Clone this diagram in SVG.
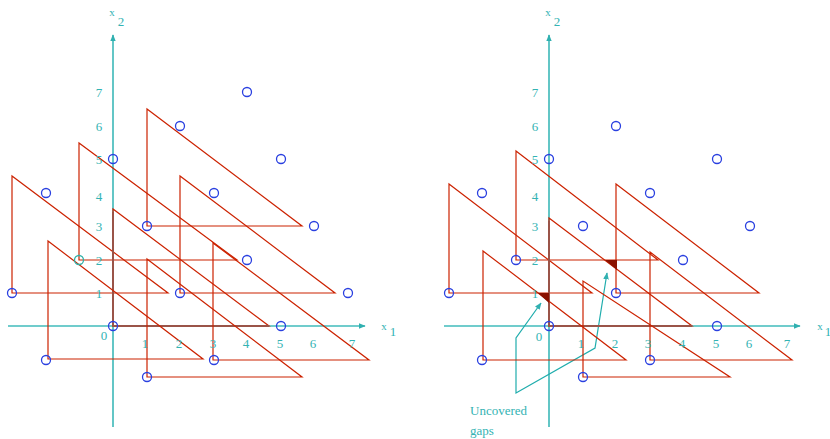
<svg xmlns="http://www.w3.org/2000/svg" width="830" height="439" viewBox="0 0 830 439">
<defs>
<style>
.ax{stroke:#3cb8b8;stroke-width:1.6;fill:none}
.axx{stroke:#70cccc;stroke-width:2;fill:none}
.tri{stroke:#cc2200;stroke-width:1.2;fill:none}
.ov{stroke:#9a5448;stroke-width:2;fill:none}
.pt{stroke:#2a40e0;stroke-width:1.3;fill:none}
.lab{font-family:"Liberation Serif",serif;font-size:13px;fill:#33b3b3;text-anchor:middle}
.sm{font-size:11px}
.gap{fill:#8a1200;stroke:none}
.ptr{stroke:#20adad;stroke-width:1.2;fill:none}
</style>
<marker id="ah" viewBox="0 0 10 10" refX="9" refY="5" markerWidth="7" markerHeight="7" markerUnits="userSpaceOnUse" orient="auto-start-reverse">
<path d="M0,1 L10,5 L0,9 Z" fill="#30b0b0"/>
</marker>
</defs>

<g id="connectors">
<line class="ax" x1="113" y1="427" x2="113" y2="35" marker-end="url(#ah)"/>
<line class="axx" x1="8" y1="326" x2="365" y2="326" marker-end="url(#ah)"/>
<line class="ax" x1="549" y1="427" x2="549" y2="35" marker-end="url(#ah)"/>
<line class="axx" x1="444" y1="326" x2="800" y2="326" marker-end="url(#ah)"/>
<polyline class="ptr" points="541,303 516,338 516,393 595,348 607,273" marker-start="url(#ah)" marker-end="url(#ah)"/>
</g>

<g id="left-triangles">
<polygon id="LA" class="tri" points="12,176 12,293 168,293"/>
<polygon id="LB" class="tri" points="79,143 79,260 237,260"/>
<polygon id="LC" class="tri" points="147,109 147,226 302,226"/>
<polygon id="LD" class="tri" points="180,176 180,293 335,293"/>
<g id="LE"><polygon class="tri" points="113,209 113,326 269,326"/><polyline class="ov" points="113,212 113,326 269,326"/></g>
<polygon id="LF" class="tri" points="48,241 48,359 203,359"/>
<polygon id="LG" class="tri" points="213,243 213,360 369,360"/>
<polygon id="LH" class="tri" points="147,259 147,377 302,377"/>
</g>

<g id="right-triangles">
<polygon id="RA" class="tri" points="449,184 449,293 592,293"/>
<polygon id="RB" class="tri" points="516,151 516,260 658,260"/>
<polygon id="RC" class="tri" points="616,184 616,293 759,293"/>
<g id="RD"><polygon class="tri" points="549,218 549,326 692,326"/><polyline class="ov" points="549,221 549,326 692,326"/></g>
<polygon id="RE" class="tri" points="483,251 483,360 626,360"/>
<polygon id="RF" class="tri" points="650,252 650,360 792,360"/>
<polygon id="RG" class="tri" points="583,281 583,377 730,377"/>
<polygon id="gap1" class="gap" points="538,293 549,293 549,303"/>
<polygon id="gap2" class="gap" points="605,260 617,260 617,270"/>
</g>

<g id="left-points">
<circle class="pt" cx="247" cy="92" r="4.5"/>
<circle class="pt" cx="180" cy="126" r="4.5"/>
<circle class="pt" cx="113" cy="159" r="4.5"/>
<circle class="pt" cx="281" cy="159" r="4.5"/>
<circle class="pt" cx="46" cy="193" r="4.5"/>
<circle class="pt" cx="214" cy="193" r="4.5"/>
<circle class="pt" cx="147" cy="226" r="4.5"/>
<circle class="pt" cx="314" cy="226" r="4.5"/>
<circle class="pt" cx="79" cy="260" r="4.5" style="stroke:#30b0a8"/>
<circle class="pt" cx="247" cy="260" r="4.5"/>
<circle class="pt" cx="12" cy="293" r="4.5"/>
<circle class="pt" cx="180" cy="293" r="4.5"/>
<circle class="pt" cx="348" cy="293" r="4.5"/>
<circle class="pt" cx="113" cy="326" r="4.5"/>
<circle class="pt" cx="281" cy="326" r="4.5"/>
<circle class="pt" cx="46" cy="360" r="4.5"/>
<circle class="pt" cx="214" cy="360" r="4.5"/>
<circle class="pt" cx="147" cy="377" r="4.5"/>
</g>

<g id="right-points">
<circle class="pt" cx="616" cy="126" r="4.5"/>
<circle class="pt" cx="549" cy="159" r="4.5"/>
<circle class="pt" cx="717" cy="159" r="4.5"/>
<circle class="pt" cx="482" cy="193" r="4.5"/>
<circle class="pt" cx="650" cy="193" r="4.5"/>
<circle class="pt" cx="583" cy="226" r="4.5"/>
<circle class="pt" cx="750" cy="226" r="4.5"/>
<circle class="pt" cx="516" cy="260" r="4.5"/>
<circle class="pt" cx="683" cy="260" r="4.5"/>
<circle class="pt" cx="449" cy="293" r="4.5"/>
<circle class="pt" cx="616" cy="293" r="4.5"/>
<circle class="pt" cx="549" cy="326" r="4.5"/>
<circle class="pt" cx="717" cy="326" r="4.5"/>
<circle class="pt" cx="482" cy="360" r="4.5"/>
<circle class="pt" cx="650" cy="360" r="4.5"/>
<circle class="pt" cx="583" cy="377" r="4.5"/>
</g>

<g id="left-labels">
<text class="lab sm" x="112" y="16">x</text>
<text class="lab" x="121" y="26">2</text>
<text class="lab sm" x="384" y="330">x</text>
<text class="lab" x="393" y="336">1</text>
<text class="lab" x="99" y="97">7</text>
<text class="lab" x="99" y="131">6</text>
<text class="lab" x="99" y="164">5</text>
<text class="lab" x="99" y="201">4</text>
<text class="lab" x="99" y="231">3</text>
<text class="lab" x="99" y="265">2</text>
<text class="lab" x="99" y="298">1</text>
<text class="lab" x="104" y="340">0</text>
<text class="lab" x="145" y="348">1</text>
<text class="lab" x="179" y="348">2</text>
<text class="lab" x="213" y="348">3</text>
<text class="lab" x="246" y="348">4</text>
<text class="lab" x="280" y="348">5</text>
<text class="lab" x="313" y="348">6</text>
<text class="lab" x="352" y="348">7</text>
</g>

<g id="right-labels">
<text class="lab sm" x="548" y="16">x</text>
<text class="lab" x="557" y="26">2</text>
<text class="lab sm" x="820" y="330">x</text>
<text class="lab" x="828" y="336">1</text>
<text class="lab" x="535" y="97">7</text>
<text class="lab" x="535" y="131">6</text>
<text class="lab" x="535" y="164">5</text>
<text class="lab" x="535" y="201">4</text>
<text class="lab" x="535" y="231">3</text>
<text class="lab" x="535" y="265">2</text>
<text class="lab" x="535" y="298">1</text>
<text class="lab" x="539" y="341">0</text>
<text class="lab" x="581" y="348">1</text>
<text class="lab" x="615" y="348">2</text>
<text class="lab" x="648" y="348">3</text>
<text class="lab" x="682" y="348">4</text>
<text class="lab" x="716" y="348">5</text>
<text class="lab" x="749" y="348">6</text>
<text class="lab" x="787" y="348">7</text>
<text class="lab" x="470" y="415" style="text-anchor:start">Uncovered</text>
<text class="lab" x="470" y="435" style="text-anchor:start">gaps</text>
</g>
</svg>
